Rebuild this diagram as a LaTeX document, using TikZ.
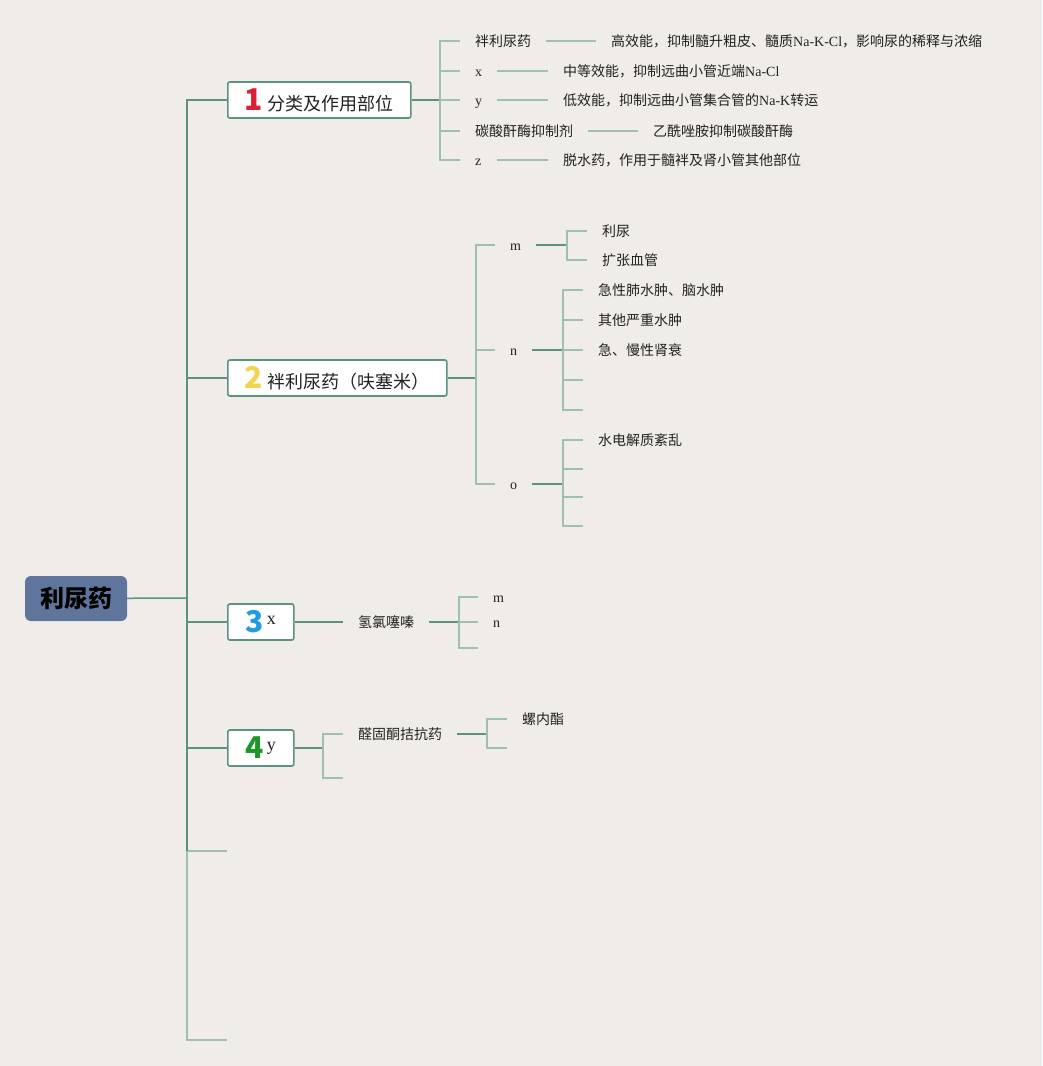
\documentclass[tikz,border=0pt]{standalone}
\usepackage{fontspec}
\setmainfont{Liberation Serif}
\newfontfamily\cjk{Noto Sans CJK SC}
\definecolor{bg}{RGB}{240,236,231}
\definecolor{dline}{RGB}{92,146,128}
\definecolor{lline}{RGB}{158,192,176}
\definecolor{rootblue}{RGB}{95,117,155}
\definecolor{txt}{RGB}{34,34,34}
\definecolor{numred}{RGB}{220,32,52}
\definecolor{numyel}{RGB}{244,212,78}
\definecolor{numblue}{RGB}{34,156,224}
\definecolor{numgreen}{RGB}{28,150,40}
\newcommand\badge[2]{{\color{#1}\bfseries\fontsize{30}{32}\selectfont #2}}
\newcommand\upletter[1]{\raisebox{8pt}{\rmfamily\fontsize{18}{20}\selectfont #1}}

\begin{document}
\begin{tikzpicture}[x=1pt,y=1pt]
	\tikzstyle{every node}+=[inner sep=0pt]
	\tikzstyle{root}=[fill=rootblue, rounded corners=6pt, minimum width=102pt, minimum height=45pt, text=black, font=\cjk\bfseries\fontsize{24}{28}\selectfont]
	\tikzstyle{topic}=[draw=dline, line width=1.6pt, fill=white, rounded corners=2pt, minimum height=36pt, anchor=west, text=txt, font=\cjk\fontsize{18}{22}\selectfont]
	\tikzstyle{leaf}=[anchor=west, inner xsep=15pt, text height=12pt, text depth=2pt, text=txt, font=\cjk\fontsize{14}{17}\selectfont]
	\tikzstyle{dark}=[draw=dline, line width=1.5pt]
	\tikzstyle{light}=[draw=lline, line width=1.5pt]
	\useasboundingbox (0,0) rectangle (1042,-1066);
	\fill [bg] (0,0) rectangle (1042,-1066);
	% root and main branches
	\node [root] (root) at (76,-598.5) {利尿药};
	\coordinate (hub) at (187,-598);
	\node [topic, minimum width=183pt] (t1) at (227,-100) {\badge{numred}{1}\hspace{5pt}分类及作用部位};
	\node [topic, minimum width=219pt] (t2) at (227,-378) {\badge{numyel}{2}\hspace{5pt}袢利尿药（呋塞米）};
	\node [topic, minimum width=66pt] (t3) at (227,-622) {\badge{numblue}{3}\hspace{3pt}\upletter{x}};
	\node [topic, minimum width=66pt] (t4) at (227,-748) {\badge{numgreen}{4}\hspace{3pt}\upletter{y}};
	\coordinate (t5) at (227,-851);
	\coordinate (t6) at (227,-1040);
	\draw [light] (hub) |- (t5);
	\draw [light] (hub) |- (t6);
	\draw [dark] (hub) -- (hub |- t5);
	\draw [dark] (root) -- (hub);
	\foreach \t in {t1,t2,t3,t4}
		\draw [dark] (hub) |- (\t.west);
	% 1
	\coordinate (h1) at (440,-100);
	\draw [dark] (t1) -- (h1);
	\node [leaf] (c11) at (460,-41) {袢利尿药};
	\node [leaf] (c12) at (460,-71) {\rmfamily x};
	\node [leaf] (c13) at (460,-100) {\rmfamily y};
	\node [leaf] (c14) at (460,-131) {碳酸酐酶抑制剂};
	\node [leaf] (c15) at (460,-160) {\rmfamily z};
	\foreach \c in {c11,c12,c13,c14,c15}
		\draw [light] (h1) |- (\c.west);
	\node [leaf] (g11) at (596,-41) {高效能，抑制髓升粗皮、髓质{\rmfamily Na-K-Cl}，影响尿的稀释与浓缩};
	\node [leaf] (g12) at (548,-71) {中等效能，抑制远曲小管近端{\rmfamily Na-Cl}};
	\node [leaf] (g13) at (548,-100) {低效能，抑制远曲小管集合管的{\rmfamily Na-K}转运};
	\node [leaf] (g14) at (638,-131) {乙酰唑胺抑制碳酸酐酶};
	\node [leaf] (g15) at (548,-160) {脱水药，作用于髓袢及肾小管其他部位};
	\foreach \c/\g in {c11/g11,c12/g12,c13/g13,c14/g14,c15/g15}
		\draw [light] (\c.east) -- (\g.west);
	% 2
	\coordinate (h2) at (476,-378);
	\draw [dark] (t2) -- (h2);
	\node [leaf] (c21) at (495,-245) {\rmfamily m};
	\node [leaf] (c22) at (495,-350) {\rmfamily n};
	\node [leaf] (c23) at (495,-484) {\rmfamily o};
	\foreach \c in {c21,c22,c23}
		\draw [light] (h2) |- (\c.west);
	\coordinate (h21) at (567,-245);
	\draw [dark] (c21) -- (h21);
	\node [leaf] (d211) at (587,-231) {利尿};
	\node [leaf] (d212) at (587,-260) {扩张血管};
	\foreach \d in {d211,d212}
		\draw [light] (h21) |- (\d.west);
	\coordinate (h22) at (563,-350);
	\draw [dark] (c22) -- (h22);
	\node [leaf] (d221) at (583,-290) {急性肺水肿、脑水肿};
	\node [leaf] (d222) at (583,-320) {其他严重水肿};
	\node [leaf] (d223) at (583,-350) {急、慢性肾衰};
	\node [leaf] (d224) at (583,-380) {};
	\node [leaf] (d225) at (583,-410) {};
	\foreach \d in {d221,d222,d223,d224,d225}
		\draw [light] (h22) |- (\d.west);
	\coordinate (h23) at (563,-484);
	\draw [dark] (c23) -- (h23);
	\node [leaf] (d231) at (583,-440) {水电解质紊乱};
	\node [leaf] (d232) at (583,-469) {};
	\node [leaf] (d233) at (583,-497) {};
	\node [leaf] (d234) at (583,-526) {};
	\foreach \d in {d231,d232,d233,d234}
		\draw [light] (h23) |- (\d.west);
	% 3
	\node [leaf] (c31) at (343,-622) {氢氯噻嗪};
	\draw [dark] (t3) -- (c31);
	\coordinate (h31) at (459,-622);
	\draw [dark] (c31) -- (h31);
	\node [leaf] (d311) at (478,-597) {\rmfamily m};
	\node [leaf] (d312) at (478,-622) {\rmfamily n};
	\node [leaf] (d313) at (478,-648) {};
	\foreach \d in {d311,d312,d313}
		\draw [light] (h31) |- (\d.west);
	% 4
	\coordinate (h4) at (323,-748);
	\draw [dark] (t4) -- (h4);
	\node [leaf] (c41) at (343,-734) {醛固酮拮抗药};
	\node [leaf] (c42) at (343,-778) {};
	\foreach \c in {c41,c42}
		\draw [light] (h4) |- (\c.west);
	\coordinate (h41) at (487,-734);
	\draw [dark] (c41) -- (h41);
	\node [leaf] (d411) at (507,-719) {螺内酯};
	\node [leaf] (d412) at (507,-748) {};
	\foreach \d in {d411,d412}
		\draw [light] (h41) |- (\d.west);
\end{tikzpicture}
\end{document}
